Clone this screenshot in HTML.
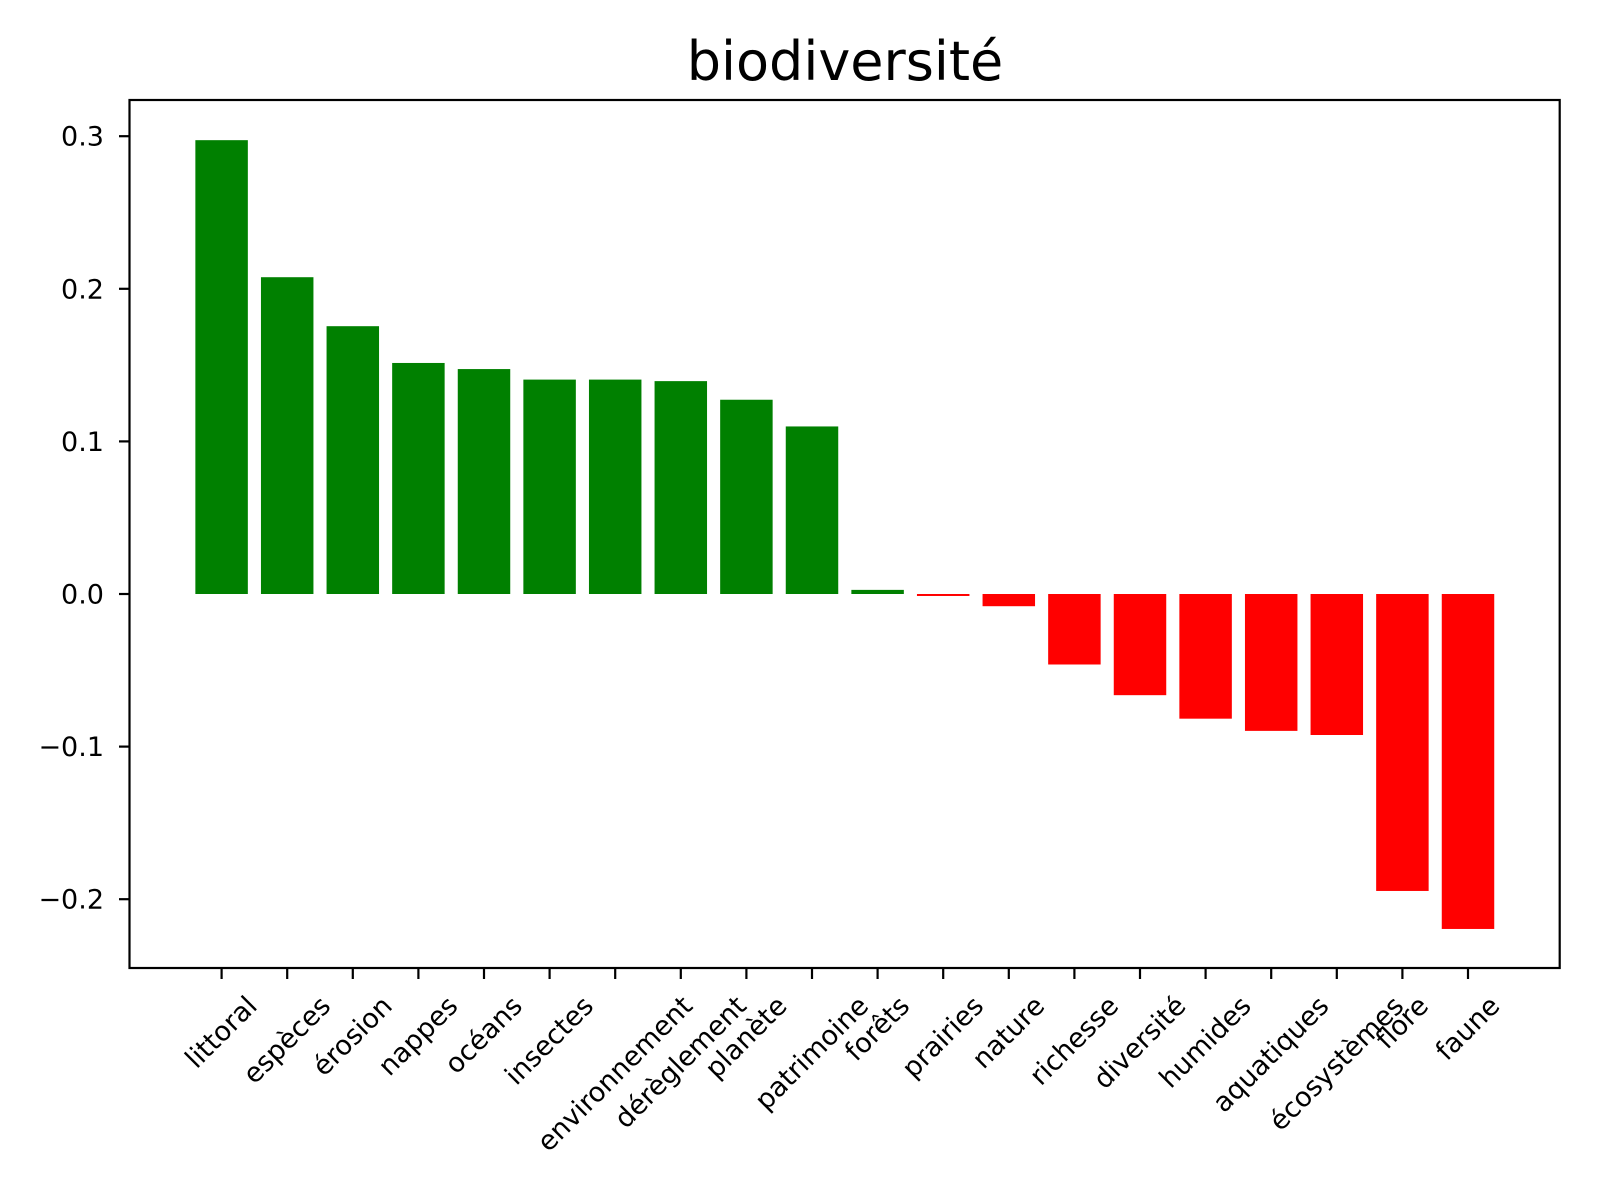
<!DOCTYPE html>
<html><head><meta charset="utf-8"><style>body{margin:0;background:#fff}svg{display:block}text{font-family:"DejaVu Sans","Liberation Sans",sans-serif;fill:#000}</style></head>
<body>
<svg id="chart" width="1600" height="1200" xmlns="http://www.w3.org/2000/svg">
<text x="845" y="80" font-size="54" text-anchor="middle">biodiversité</text>
<g id="plot"></g>
<rect x="129.5" y="100" width="1430.2" height="868" fill="none" stroke="#000" stroke-width="2.2"/>
</svg>
<script>
const categories = ["littoral","espèces","érosion","nappes","océans","insectes","environnement","dérèglement","planète","patrimoine","forêts","prairies","nature","richesse","diversité","humides","aquatiques","écosystèmes","flore","faune"];
const values = [0.2974,0.2076,0.1755,0.1514,0.1474,0.1405,0.1405,0.1395,0.1273,0.1098,0.0027,-0.0013,-0.008,-0.0462,-0.0663,-0.0817,-0.0897,-0.0924,-0.1946,-0.2195];
const yTicks = [-0.2,-0.1,0.0,0.1,0.2,0.3];
const yTickLabels = ["\u22120.2","\u22120.1","0.0","0.1","0.2","0.3"];

const NS="http://www.w3.org/2000/svg";
const g=document.getElementById('plot');
const x0=221.6, dx=65.6;
function xs(i){return x0+i*dx;}
function ys(v){return 594-v*1526;}
function mk(t,a){const e=document.createElementNS(NS,t);for(const k in a)e.setAttribute(k,a[k]);g.appendChild(e);return e;}
const bw=0.8*dx;
values.forEach((v,i)=>{
  const r=mk('rect',{x:xs(i)-bw/2,y:Math.min(ys(v),ys(0)),width:bw,height:Math.abs(ys(v)-ys(0)),fill:v>=0?'#008000':'#ff0000'});
  
  
});
yTicks.forEach((t,i)=>{
  const y=ys(t);
  const l=mk('line',{x1:119,x2:129.5,y1:y,y2:y,stroke:'#000','stroke-width':2.2});
  
  
  const tx=mk('text',{x:104,y:y+9.5,'font-size':27,'text-anchor':'end'});
  tx.textContent=yTickLabels[i];
  
  
});
categories.forEach((c,i)=>{
  const x=xs(i);
  const l=mk('line',{x1:x,x2:x,y1:968,y2:979,stroke:'#000','stroke-width':2.2});
  
  
  const tx=mk('text',{x:0,y:0,'font-size':27,'text-anchor':'middle','dominant-baseline':'central'});
  tx.textContent=c;
  
  
  const w=tx.getComputedTextLength(), h=27;
  const bh=(w+h)/Math.SQRT2;
  const cy=992+bh/2;
  tx.setAttribute('transform','translate('+x+','+cy+') rotate(-45)');
});
</script>
</body></html>
